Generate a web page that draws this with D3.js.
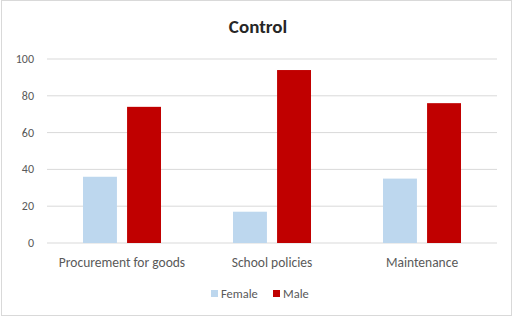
<!DOCTYPE html>
<html>
<head>
<meta charset="utf-8">
<script src="https://cdn.jsdelivr.net/npm/d3@7"></script>
<style>
  body { margin: 0; background: #fff; }
  text { font-family: Calibri, Carlito, "Liberation Sans", sans-serif; }
</style>
</head>
<body>
<div id="chart"></div>
<script>
var width = 513;
var height = 323;

// data
let categories = ["Procurement for goods", "School policies", "Maintenance"];
let series = ["Female", "Male"];
let female = [36, 17, 35];
let male = [74, 94, 76];
let yTicks = [0, 20, 40, 60, 80, 100];

let colors = {"Female": "#BDD7EE", "Male": "#C00000"};

var svg = d3.select("#chart")
            .append("svg")
              .attr("width", width).attr("height", height);

svg.append("rect").attr("x", 1.5).attr("y", 0.5).attr("width", width - 3).attr("height", height - 8)
    .attr("fill", "#fff").attr("stroke", "#d9d9d9");

let x = d3.scaleBand().domain(categories).range([47, 497]);
let xs = d3.scaleBand().domain(series).range([36, 114]).paddingInner(0.23);
let y = d3.scaleLinear().domain([0, 100]).range([243, 59]);

// gridlines
svg.append("g").selectAll("line").data(yTicks).join("line")
    .attr("x1", 47).attr("x2", 497)
    .attr("y1", d => y(d)).attr("y2", d => y(d))
    .attr("stroke", "#d9d9d9").attr("stroke-width", 1);

// y labels
svg.append("g").selectAll("text").data(yTicks).join("text")
    .attr("x", 34).attr("y", d => y(d) + 4)
    .attr("text-anchor", "end")
    .attr("font-size", 12).attr("fill", "#595959")
    .text(d => d);

let rows = categories.map((c, i) => ({cat: c, Female: female[i], Male: male[i]}));

svg.append("g").selectAll("g").data(rows).join("g")
    .attr("transform", d => `translate(${x(d.cat)},0)`)
    .selectAll("rect").data(d => series.map(s => ({s: s, v: d[s]})))
    .join("rect")
    .attr("x", d => xs(d.s))
    .attr("width", xs.bandwidth())
    .attr("y", d => y(d.v))
    .attr("height", d => y(0) - y(d.v))
    .attr("fill", d => colors[d.s]);

// category labels
svg.append("g").selectAll("text").data(categories).join("text")
    .attr("x", d => x(d) + x.bandwidth() / 2)
    .attr("y", 267)
    .attr("text-anchor", "middle")
    .attr("font-size", 13.5).attr("fill", "#595959")
    .text(d => d);

// title
svg.append("text").attr("x", 258).attr("y", 33)
    .attr("text-anchor", "middle")
    .attr("font-size", 19).attr("font-weight", "bold").attr("fill", "#262626")
    .text("Control");

// legend
let legend = svg.append("g").attr("transform", "translate(211,298)");
let lx = d3.scaleOrdinal().domain(series).range([0, 62]);
legend.selectAll("rect").data(series).join("rect")
    .attr("x", d => lx(d)).attr("y", -8).attr("width", 7).attr("height", 7)
    .attr("fill", d => colors[d]);
legend.selectAll("text").data(series).join("text")
    .attr("x", d => lx(d) + 10).attr("y", 0)
    .attr("font-size", 12.5).attr("fill", "#595959")
    .text(d => d);
</script>
</body>
</html>
